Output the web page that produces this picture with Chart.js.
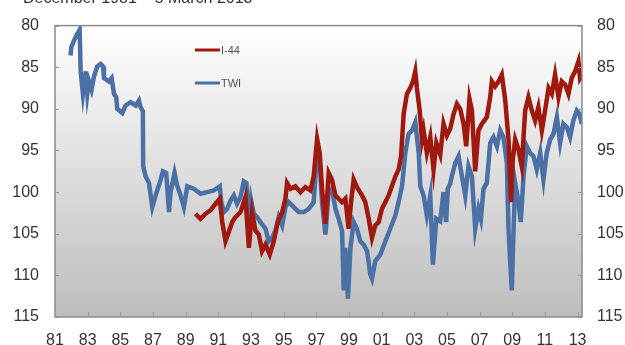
<!DOCTYPE html>
<html>
<head>
<meta charset="utf-8">
<script src="https://cdn.jsdelivr.net/npm/chart.js@4/dist/chart.umd.min.js"></script>
<style>
  html, body { margin: 0; padding: 0; background: #ffffff; }
  #wrap { position: relative; width: 625px; height: 345px; }
</style>
</head>
<body>
<div id="wrap"><canvas id="c" width="625" height="345"></canvas></div>
<script>
const titleText = 'December 1981 – 5 March 2013';
const seriesNames = ['I-44', 'TWI'];

const tickYears = [1981, 1983, 1985, 1987, 1989, 1991, 1993, 1995, 1997, 1999, 2001, 2003, 2005, 2007, 2009, 2011, 2013];
const tickLabels = ['81', '83', '85', '87', '89', '91', '93', '95', '97', '99', '01', '03', '05', '07', '09', '11', '13'];
const yTicks = [80, 85, 90, 95, 100, 105, 110, 115];

const twiYears = [
  1981.95, 1982.00, 1982.16, 1982.37, 1982.51, 1982.57, 1982.71, 1982.88, 1982.98, 1983.08,
  1983.24, 1983.39, 1983.59, 1983.80, 1983.94, 1984.00, 1984.30, 1984.47, 1984.61, 1984.75,
  1984.81, 1985.12, 1985.32, 1985.63, 1985.94, 1986.14, 1986.24, 1986.38, 1986.40, 1986.55,
  1986.75, 1986.96, 1987.16, 1987.47, 1987.61, 1987.81, 1987.98, 1988.08, 1988.32, 1988.48,
  1988.69, 1988.89, 1989.10, 1989.50, 1989.91, 1990.32, 1990.73, 1991.09, 1991.18, 1991.34,
  1991.54, 1991.75, 1991.95, 1992.15, 1992.36, 1992.56, 1992.72, 1992.87, 1993.01, 1993.17,
  1993.38, 1993.58, 1993.89, 1994.09, 1994.29, 1994.50, 1994.70, 1994.91, 1995.11, 1995.31,
  1995.62, 1995.93, 1996.23, 1996.54, 1996.84, 1997.05, 1997.21, 1997.35, 1997.56, 1997.76,
  1997.96, 1998.17, 1998.37, 1998.58, 1998.68, 1998.78, 1998.94, 1999.09, 1999.29, 1999.49,
  1999.70, 1999.90, 2000.11, 2000.31, 2000.41, 2000.61, 2000.92, 2001.23, 2001.53, 2001.84,
  2002.04, 2002.25, 2002.45, 2002.65, 2002.86, 2003.06, 2003.27, 2003.37, 2003.57, 2003.77,
  2003.98, 2004.14, 2004.35, 2004.59, 2004.79, 2004.95, 2005.05, 2005.20, 2005.30, 2005.51,
  2005.71, 2005.92, 2006.12, 2006.32, 2006.53, 2006.73, 2006.93, 2007.08, 2007.24, 2007.44,
  2007.65, 2007.85, 2008.06, 2008.26, 2008.46, 2008.67, 2008.77, 2008.87, 2008.97, 2009.08,
  2009.18, 2009.38, 2009.52, 2009.69, 2009.89, 2010.09, 2010.30, 2010.50, 2010.71, 2010.91,
  2011.11, 2011.32, 2011.52, 2011.73, 2011.93, 2012.13, 2012.34, 2012.54, 2012.74, 2012.95,
  2013.11, 2013.26
];
const twiValues = [
  83.6, 82.6, 81.8, 81.0, 80.5, 85.5, 88.2, 85.5, 88.2, 86.7,
  87.7, 86.1, 84.9, 84.6, 84.9, 86.3, 86.7, 86.3, 88.2, 88.6,
  90.0, 90.5, 89.6, 89.2, 89.6, 89.0, 89.8, 90.3, 96.9, 98.1,
  98.9, 101.8, 100.4, 98.5, 97.5, 97.7, 102.4, 100.0, 97.7, 99.2,
  100.4, 101.8, 99.3, 99.6, 100.2, 100.0, 99.8, 99.3, 101.2, 102.4,
  102.0, 101.0, 100.4, 101.4, 100.6, 98.7, 98.9, 104.8, 101.0, 102.6,
  103.0, 103.6, 104.4, 105.9, 105.5, 104.6, 103.0, 104.0, 101.8, 101.2,
  101.8, 102.4, 102.4, 102.0, 101.2, 95.2, 96.5, 101.2, 105.1, 100.0,
  99.6, 102.0, 103.2, 104.7, 111.8, 106.7, 112.8, 106.7, 103.6, 104.4,
  105.9, 106.3, 107.1, 109.9, 110.4, 108.3, 107.5, 105.9, 104.4, 102.8,
  101.2, 99.3, 95.3, 93.0, 92.6, 91.6, 95.3, 99.3, 100.4, 102.8,
  100.4, 108.7, 103.2, 103.5, 100.0, 103.6, 99.6, 99.0, 98.1, 96.5,
  95.7, 98.1, 100.4, 96.9, 98.1, 104.4, 102.0, 103.2, 99.6, 98.9,
  94.1, 93.4, 94.5, 92.6, 93.4, 96.5, 104.4, 108.3, 111.8, 104.4,
  98.9, 101.2, 103.6, 98.1, 94.5, 95.3, 95.7, 97.3, 95.3, 98.5,
  95.3, 93.7, 93.0, 91.0, 94.1, 91.8, 92.2, 93.4, 91.4, 90.2,
  90.6, 91.8
];

const i44Years = [
  1989.60, 1989.91, 1990.22, 1990.52, 1990.83, 1991.09, 1991.24, 1991.44, 1991.64, 1991.85,
  1992.05, 1992.36, 1992.66, 1992.87, 1993.07, 1993.27, 1993.48, 1993.68, 1993.89, 1994.15,
  1994.40, 1994.64, 1994.91, 1995.11, 1995.21, 1995.42, 1995.72, 1996.03, 1996.33, 1996.64,
  1996.84, 1997.05, 1997.21, 1997.35, 1997.56, 1997.76, 1997.96, 1998.17, 1998.37, 1998.58,
  1998.78, 1998.98, 1999.13, 1999.29, 1999.49, 1999.80, 2000.00, 2000.21, 2000.41, 2000.61,
  2000.82, 2001.02, 2001.23, 2001.43, 2001.63, 2001.84, 2002.04, 2002.19, 2002.35, 2002.55,
  2002.75, 2002.92, 2003.06, 2003.16, 2003.33, 2003.47, 2003.57, 2003.77, 2003.98, 2004.18,
  2004.35, 2004.59, 2004.79, 2005.00, 2005.20, 2005.41, 2005.61, 2005.81, 2006.02, 2006.18,
  2006.38, 2006.53, 2006.73, 2006.93, 2007.14, 2007.44, 2007.65, 2007.75, 2007.95, 2008.16,
  2008.36, 2008.57, 2008.77, 2008.93, 2009.03, 2009.18, 2009.38, 2009.58, 2009.79, 2009.99,
  2010.20, 2010.40, 2010.60, 2010.81, 2011.01, 2011.22, 2011.42, 2011.62, 2011.83, 2012.03,
  2012.24, 2012.44, 2012.64, 2012.85, 2013.05, 2013.15, 2013.26
];
const i44Values = [
  102.6, 103.2, 102.6, 102.2, 101.4, 100.8, 103.6, 105.9, 104.8, 103.6,
  103.0, 102.4, 100.6, 106.7, 102.4, 104.6, 105.1, 107.1, 106.3, 107.5,
  105.9, 103.6, 102.4, 100.8, 98.9, 99.6, 99.3, 100.0, 99.4, 99.8,
  98.1, 93.6, 95.3, 99.6, 103.8, 97.7, 98.5, 100.4, 100.8, 101.2,
  100.8, 104.4, 101.2, 98.5, 99.4, 100.4, 101.2, 103.2, 105.5, 104.0,
  103.6, 102.0, 101.2, 100.4, 99.3, 98.1, 97.3, 95.7, 90.6, 88.2,
  87.5, 86.7, 85.5, 87.5, 90.2, 93.7, 92.6, 95.3, 93.4, 97.3,
  94.1, 95.5, 91.8, 93.2, 92.4, 90.6, 89.4, 90.0, 91.8, 94.5,
  88.8, 90.2, 97.5, 92.6, 91.8, 91.0, 88.6, 86.7, 87.3, 86.7,
  85.9, 89.0, 93.7, 101.2, 96.1, 93.7, 94.9, 96.9, 90.2, 88.6,
  90.2, 91.4, 89.8, 92.6, 90.2, 87.5, 88.2, 85.9, 88.6, 86.7,
  87.1, 88.2, 86.3, 85.5, 84.3, 86.3, 85.9
];

const RED = '#a0190f';
const BLUE = '#4a70a5';
const FONT = '"Liberation Sans", Arial, sans-serif';

function toPoints(xs, ys) { return xs.map((x, i) => ({ x: x, y: ys[i] })); }

const framePlugin = {
  id: 'frame',
  beforeDatasetsDraw(chart) {
    const { ctx, chartArea: a } = chart;
    const g = ctx.createLinearGradient(0, a.top, 0, a.bottom);
    g.addColorStop(0, '#ffffff');
    g.addColorStop(1, '#bdbdbd');
    ctx.save();
    ctx.fillStyle = g;
    ctx.fillRect(a.left, a.top, a.right - a.left, a.bottom - a.top);
    ctx.restore();
  },
  afterDatasetsDraw(chart) {
    const { ctx, chartArea: a, scales } = chart;
    ctx.save();
    ctx.strokeStyle = '#8a8a8a';
    ctx.lineWidth = 1.5;
    ctx.strokeRect(a.left, a.top, a.right - a.left, a.bottom - a.top);
    ctx.lineWidth = 1;
    ctx.strokeStyle = '#9a9a9a';
    ctx.beginPath();
    tickYears.forEach(v => {
      const x = Math.round(scales.x.getPixelForValue(v)) + 0.5;
      ctx.moveTo(x, a.bottom); ctx.lineTo(x, a.bottom - 5);
    });
    yTicks.forEach(v => {
      const y = Math.round(scales.y.getPixelForValue(v)) + 0.5;
      ctx.moveTo(a.left, y); ctx.lineTo(a.left + 4, y);
      const y2 = Math.round(scales.y2.getPixelForValue(v)) + 0.5;
      ctx.moveTo(a.right, y2); ctx.lineTo(a.right - 4, y2);
    });
    ctx.stroke();

    const items = chart.data.datasets;
    const lx = 195, ly = [50, 83];
    items.forEach((ds, i) => {
      ctx.strokeStyle = ds.borderColor;
      ctx.lineWidth = 3;
      ctx.beginPath();
      ctx.moveTo(lx, ly[i]); ctx.lineTo(lx + 25, ly[i]);
      ctx.stroke();
      ctx.fillStyle = '#555555';
      ctx.font = '11px ' + FONT;
      ctx.textBaseline = 'middle';
      ctx.textAlign = 'left';
      ctx.fillText(ds.label, lx + 26, ly[i] + 0.5);
    });

    ctx.fillStyle = '#333333';
    ctx.font = '16px ' + FONT;
    ctx.textBaseline = 'alphabetic';
    ctx.textAlign = 'left';
    ctx.fillText(titleText, 23, 3);
    ctx.restore();
  }
};

new Chart(document.getElementById('c'), {
  type: 'line',
  data: {
    datasets: [
      { label: seriesNames[0], data: toPoints(i44Years, i44Values), borderColor: RED, backgroundColor: RED,
        borderWidth: 4.5, pointRadius: 0, tension: 0, yAxisID: 'y', order: 0 },
      { label: seriesNames[1], data: toPoints(twiYears, twiValues), borderColor: BLUE, backgroundColor: BLUE,
        borderWidth: 4.5, pointRadius: 0, tension: 0, yAxisID: 'y', order: 1 }
    ]
  },
  options: {
    responsive: false,
    animation: false,
    devicePixelRatio: 1,
    layout: { padding: { top: 20, left: 0, right: 0, bottom: 0 } },
    plugins: { legend: { display: false }, tooltip: { enabled: false } },
    scales: {
      x: {
        type: 'linear', min: 1981, max: 2013.27,
        grid: { display: false, drawTicks: false },
        border: { display: false },
        afterBuildTicks: s => { s.ticks = tickYears.map(v => ({ value: v })); },
        afterFit: s => { s.height = 28; },
        ticks: {
          autoSkip: false, maxRotation: 0, padding: 14,
          color: '#333333', font: { family: FONT, size: 16 },
          callback: (v, i) => tickLabels[i]
        }
      },
      y: {
        position: 'left', reverse: true, min: 80, max: 115,
        grid: { display: false, drawTicks: false },
        border: { display: false },
        afterBuildTicks: s => { s.ticks = yTicks.map(v => ({ value: v })); },
        afterFit: s => { s.width = 55; },
        ticks: { padding: 16, color: '#333333', font: { family: FONT, size: 16 } }
      },
      y2: {
        position: 'right', reverse: true, min: 80, max: 115,
        grid: { display: false, drawTicks: false },
        border: { display: false },
        afterBuildTicks: s => { s.ticks = yTicks.map(v => ({ value: v })); },
        afterFit: s => { s.width = 43; },
        ticks: { padding: 15, color: '#333333', font: { family: FONT, size: 16 } }
      }
    }
  },
  plugins: [framePlugin]
});
</script>
</body>
</html>
